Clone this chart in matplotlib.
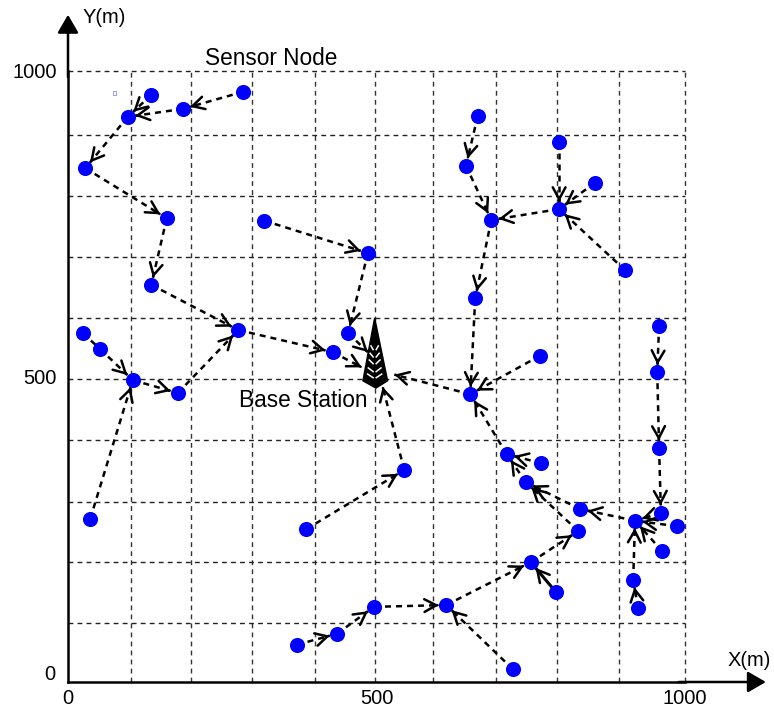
import math
import matplotlib
matplotlib.use('Agg')
import matplotlib.pyplot as plt
from matplotlib.transforms import ScaledTranslation

plt.rcParams['font.family'] = ['Liberation Sans', 'DejaVu Sans']

node_x = [284, 186, 135, 97, 28, 160, 135, 276, 429, 454,
          486, 318, 24, 52, 105, 178, 36, 386, 545, 371,
          436, 496, 613, 750, 827, 721, 791, 652, 765, 711,
          767, 742, 830, 919, 961, 987, 963, 916, 924, 958,
          955, 958, 660, 686, 645, 664, 796, 796, 854, 903]
node_y = [966, 938, 961, 925, 841, 759, 650, 576, 540, 571,
          702, 755, 571, 545, 494, 473, 267, 250, 347, 61,
          79, 123, 126, 196, 247, 21, 147, 471, 534, 373,
          358, 327, 283, 264, 277, 255, 214, 167, 121, 383,
          507, 583, 628, 756, 845, 926, 884, 774, 817, 674]

# from, to (node index)
links = [(0, 1), (1, 3), (2, 3), (3, 4), (4, 5), (5, 6), (6, 7), (7, 8),
         (10, 9), (11, 10), (13, 14), (14, 15), (15, 7), (16, 14),
         (17, 18), (19, 20), (20, 21), (21, 22), (22, 23), (23, 24), (25, 22),
         (28, 27), (29, 27), (30, 29), (31, 29), (32, 31), (24, 31), (33, 32),
         (34, 33), (35, 33), (36, 33), (37, 33), (38, 37), (39, 34), (40, 39),
         (41, 40), (42, 27), (43, 42), (44, 43), (45, 44), (46, 47), (47, 43),
         (48, 47), (49, 47)]
plain_links = [(12, 13)]
solid_links = [(26, 23)]

# links that end on the tower: from node, arrow tip x, y
base_links = [(8, 476, 515), (9, 486, 540), (27, 529, 503), (18, 510, 483)]

grid_x = [102, 199, 298, 400, 498, 592, 694, 793, 893, 1000]
grid_y = [97, 196, 295, 396, 496, 596, 696, 795, 895, 1000]

tower_x = [497, 478, 499, 518]
tower_y = [596, 493, 481, 493]
rung_y = [547, 535, 524, 511, 501]

fig = plt.figure(figsize=(7.74, 7.12), dpi=100)
ax = fig.add_axes([68 / 774, 30 / 712, 617 / 774, 611 / 712])
ax.set_xlim(0, 1000)
ax.set_ylim(0, 1000)

ax.spines['top'].set_visible(False)
ax.spines['right'].set_visible(False)
ax.spines['left'].set_linewidth(1.8)
ax.spines['bottom'].set_linewidth(1.8)

ax.set_xticks([0, 500, 1000])
ax.set_yticks([0, 500, 1000])
ax.tick_params(length=0, labelsize=14.5)
ax.tick_params(axis='x', pad=5)
ax.tick_params(axis='y', pad=8)
for g in grid_x:
    ax.plot([g, g], [0, 1000], color='#333333', lw=1, ls=(0, (3.5, 3)), clip_on=False, zorder=1)
for g in grid_y:
    ax.plot([0, 1000], [g, g], color='#222222', lw=1, ls=(0, (3.5, 3)), clip_on=False, zorder=1)

# the y label 0 sits above the axis
ylabs = ax.get_yticklabels()
ylabs[0].set_transform(ylabs[0].get_transform() + ScaledTranslation(-2 / 100, 9 / 100, fig.dpi_scale_trans))

# axis arrows
axis_head = dict(arrowstyle='-|>,head_length=0.55,head_width=0.32', color='black', lw=1.8,
                 mutation_scale=20, shrinkA=0, shrinkB=0)
ax.annotate('', xy=(1.131, 0), xytext=(0.99, 0), xycoords='axes fraction', textcoords='axes fraction',
            arrowprops=axis_head)
ax.annotate('', xy=(0, 1.092), xytext=(0, 0.99), xycoords='axes fraction', textcoords='axes fraction',
            arrowprops=axis_head)


def arrow(x0, y0, x1, y1, ls=(0, (2.4, 2)), lw=1.8, gap=12):
    # shaft is dashed, the head has to stay solid so draw them apart
    d = math.hypot(x1 - x0, y1 - y0)
    ux, uy = (x1 - x0) / d, (y1 - y0) / d
    tx, ty = x1 - ux * gap, y1 - uy * gap
    ax.plot([x0, tx], [y0, ty], color='black', lw=lw, ls=ls, zorder=3)
    ax.annotate('', xy=(tx, ty), xytext=(tx - ux * 2, ty - uy * 2),
                arrowprops=dict(arrowstyle='->,head_length=0.5,head_width=0.27', color='black', lw=1.8,
                                mutation_scale=17, shrinkA=0, shrinkB=0), zorder=3)


for a, b in links:
    arrow(node_x[a], node_y[a], node_x[b], node_y[b])
for a, b in plain_links:
    ax.plot([node_x[a], node_x[b]], [node_y[a], node_y[b]], color='black', lw=1.8, ls=(0, (2.4, 2)), zorder=3)
for a, b in solid_links:
    arrow(node_x[a], node_y[a], node_x[b], node_y[b], ls='-', lw=2.2)
for a, tx, ty in base_links:
    arrow(node_x[a], node_y[a], tx, ty, gap=0)

ax.scatter(node_x, node_y, s=118, color='#0000ff', linewidths=0, zorder=4, clip_on=False)
ax.scatter([76], [964], s=5, facecolor='none', edgecolor='#8888ff', marker='s', linewidths=0.6, zorder=2)

# base station tower
ax.fill(tower_x, tower_y, color='black', zorder=4)
for r in rung_y:
    half = (596 - r) / (596 - 493) * 20
    for side in [-1, 1]:
        ax.plot([497 + side * 2.5, 497 + side * half * 0.62], [r - 3, r + 3],
                color='white', lw=1.1, zorder=5)

ax.text(330, 1021, 'Sensor Node', ha='center', va='center', fontsize=16.3)
ax.text(381, 461, 'Base Station', ha='center', va='center', fontsize=16.3)
ax.text(58, 1087, 'Y(m)', ha='center', va='center', fontsize=14.5)
ax.text(1104, 35, 'X(m)', ha='center', va='center', fontsize=14.5)

fig.savefig('out.png', dpi=100)
